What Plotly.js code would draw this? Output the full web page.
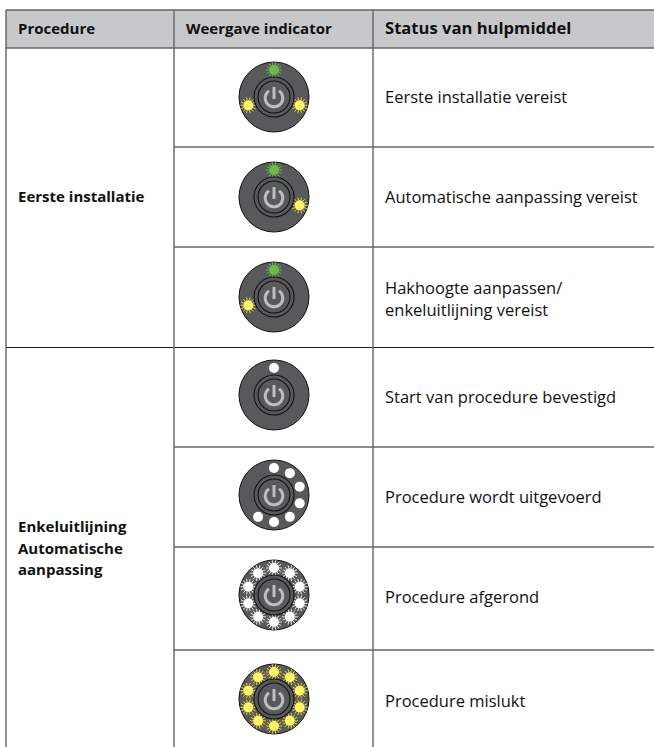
<!DOCTYPE html>
<html><head><meta charset="utf-8">
<script src="https://cdn.plot.ly/plotly-3.0.1.min.js"></script>
<style>html,body{margin:0;padding:0;background:#fff}</style></head>
<body><div id="chart" style="width:654px;height:747px"></div>
<script>
// ---- table content ----
const headers = ["Procedure", "Weergave indicator", "Status van hulpmiddel"];
const procedures = [["Eerste installatie"], ["Enkeluitlijning", "Automatische", "aanpassing"]];
const statuses = [["Eerste installatie vereist"], ["Automatische aanpassing vereist"],
  ["Hakhoogte aanpassen/", "enkeluitlijning vereist"], ["Start van procedure bevestigd"],
  ["Procedure wordt uitgevoerd"], ["Procedure afgerond"], ["Procedure mislukt"]];
// indicator LEDs per row: slot number on a 10-slot ring (0 = top, clockwise)
const greenLeds  = [[0], [0], [0], [], [], [], []];
const yellowLeds = [[3, 7], [3], [7], [], [], [], [0,1,2,3,4,5,6,7,8,9]];
const whiteLeds  = [[], [], [], [0], [0,1,2,3,4,5,6], [0,1,2,3,4,5,6,7,8,9], []];
const rayedWhite = [false, false, false, false, false, true, false];
// table geometry
const colX = [6, 174, 373, 654];
const rowY = [10, 48, 147, 247, 347.5, 447, 547, 650, 747];
const iconX = 274;
const iconY = [97, 197, 297, 395, 495, 595, 699];
const statusY = [[98.5], [199], [289.5, 312], [398.5], [498.5], [598.5], [702.5]];
const procedureY = [[198.5], [528.5, 550, 571]];
const FONT = "Open Sans, sans-serif";
const TXT = "#111111", GRID = "#636466";

const traces = [];
function seg(xs, ys, color, width) {
  traces.push({type:"scatter", mode:"lines", x:xs, y:ys, hoverinfo:"skip", line:{color, width}});
}
function dots(xs, ys, size, color, lc, lw) {
  traces.push({type:"scatter", mode:"markers", x:xs, y:ys, hoverinfo:"skip",
    marker:{symbol:"circle", size, color, line:{color:lc||color, width:lw||0}}});
}
function label(x, y, text, bold, size) {
  traces.push({type:"scatter", mode:"text", x:[x], y:[y], text:[bold?"<b>"+text+"</b>":text],
    textposition:"middle right", hoverinfo:"skip", textfont:{family:FONT, size, color:TXT}});
}
const RING = 27;
function ledPos(cy, slot) {
  const a = slot * Math.PI / 5;
  return [iconX + RING * Math.sin(a), cy - RING * Math.cos(a)];
}
function led(cy, slots, color, rayColor, coreSize) {
  if (!slots.length) return;
  const P = slots.map(s => ledPos(cy, s));
  if (rayColor) {
    const rx = [], ry = [];
    P.forEach(p => { for (let k = 0; k < 14; k++) {
      const t = k * 2 * Math.PI / 14;
      rx.push(p[0] + 5*Math.cos(t), p[0] + 8*Math.cos(t), null);
      ry.push(p[1] + 5*Math.sin(t), p[1] + 8*Math.sin(t), null);
    }});
    seg(rx, ry, rayColor, 1);
  }
  dots(P.map(p=>p[0]), P.map(p=>p[1]), coreSize, color);
}
function icon(i) {
  const cy = iconY[i];
  dots([iconX], [cy], 70, "#58595b", "#111", 1);
  led(cy, greenLeds[i], "#6abd45", "#72b84a", 10);
  led(cy, yellowLeds[i], "#fff467", "#e6d32f", 10);
  led(cy, whiteLeds[i], "#ffffff", rayedWhite[i] ? "#e8e8e8" : null, 10);
  dots([iconX], [cy], 40, "#58595b", "#111", 1.1);
  dots([iconX], [cy], 32, "#58595b", "#111", 1.1);
  const ax = [], ay = [];
  for (let d = 35; d <= 325; d += 10) {
    const a = d * Math.PI / 180;
    ax.push(iconX + 8.8 * Math.sin(a)); ay.push(cy + 1 - 8.8 * Math.cos(a));
  }
  seg(ax, ay, "#bcbec0", 3);
  seg([iconX, iconX], [cy - 10, cy + 2], "#bcbec0", 3);
}

// header band
traces.push({type:"scatter", mode:"lines", x:[colX[0], colX[3], colX[3], colX[0], colX[0]],
  y:[rowY[0], rowY[0], rowY[1], rowY[1], rowY[0]], fill:"toself", fillcolor:"#c7c8ca",
  line:{width:0}, hoverinfo:"skip"});
// grid
seg([colX[0], colX[3]], [rowY[0], rowY[0]], GRID, 1.6);
seg([colX[0], colX[3]], [rowY[1], rowY[1]], GRID, 1.6);
seg([colX[1], colX[3]], [rowY[2], rowY[2]], "#1a1a1a", 1);
seg([colX[1], colX[3]], [rowY[3], rowY[3]], "#1a1a1a", 1);
seg([colX[0], colX[3]], [rowY[4], rowY[4]], "#1a1a1a", 1);
seg([colX[1], colX[3]], [rowY[5], rowY[5]], GRID, 1.4);
seg([colX[1], colX[3]], [rowY[6], rowY[6]], GRID, 1.4);
seg([colX[1], colX[3]], [rowY[7], rowY[7]], GRID, 1.4);
[colX[0], colX[1], colX[2]].forEach(x => seg([x, x], [rowY[0], rowY[8]], GRID, 1.4));

statuses.forEach((_, i) => icon(i));

// text
label(18, 30, headers[0], true, 15);
label(186, 30, headers[1], true, 15);
label(385, 30, headers[2], true, 16.6);
procedures.forEach((p, i) => p.forEach((t, j) => label(18, procedureY[i][j], t, true, 15)));
statuses.forEach((s, i) => s.forEach((t, j) => label(385, statusY[i][j], t, false, 16.5)));

Plotly.newPlot("chart", traces, {
  width:654, height:747, margin:{l:0,r:0,t:0,b:0}, showlegend:false,
  paper_bgcolor:"#fff", plot_bgcolor:"#fff",
  xaxis:{range:[0,654], visible:false, fixedrange:true},
  yaxis:{range:[747,0], visible:false, fixedrange:true}
}, {displayModeBar:false, staticPlot:true});
</script></body></html>
